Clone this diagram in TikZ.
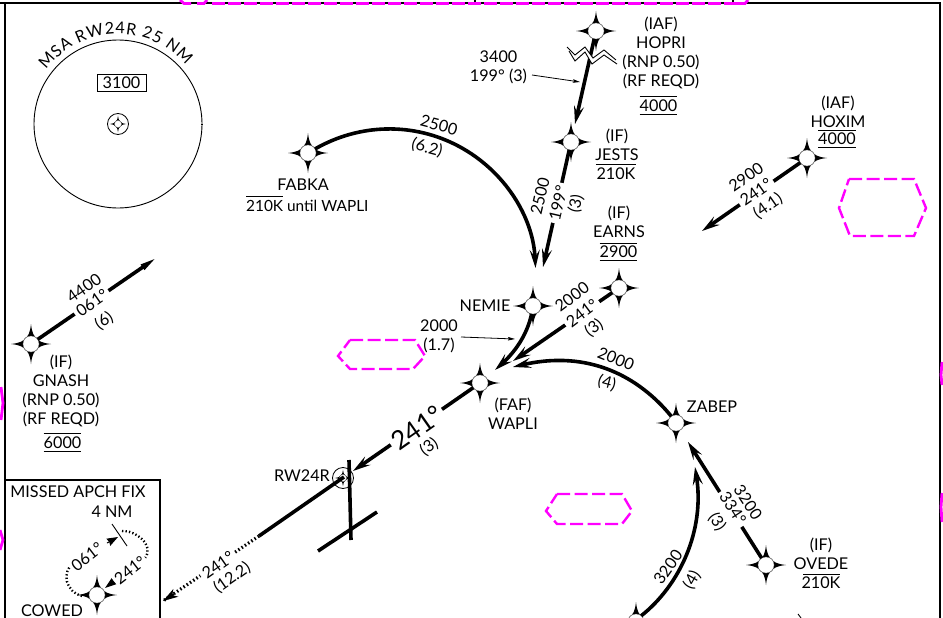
\documentclass[tikz,border=0pt]{standalone}
\usepackage{fontspec}
\setmainfont{Lato}
\usetikzlibrary{arrows.meta,decorations.text}
\definecolor{mag}{RGB}{255,0,255}
\newcommand\lfont{\fontsize{16.2}{19}\selectfont}
\newcommand\starshape{(0,-20) .. controls (1,-11) and (3,-7) .. (6,-6) .. controls (7,-3) and (11,-1) .. (20,0) .. controls (11,1) and (7,3) .. (6,6) .. controls (3,7) and (1,11) .. (0,20) .. controls (-1,11) and (-3,7) .. (-6,6) .. controls (-7,3) and (-11,1) .. (-20,0) .. controls (-11,-1) and (-7,-3) .. (-6,-6) .. controls (-3,-7) and (-1,-11) .. (0,-20) -- cycle}
\newcommand\fixpt[3]{\fill[black,shift={(#2,#3)}] \starshape; \node[fixc] (#1) at (#2,#3) {};}
\newcommand\smallfix[3]{\fill[black,shift={(#2,#3)},scale=0.42] \starshape; \node[fixc,minimum size=7pt] (#1) at (#2,#3) {};}
\tikzset{
  x=1pt,y=-1pt,
  lab/.style={font=\lfont,inner sep=0pt,align=center,text=black},
  gaplab/.style={lab,fill=white,inner xsep=3pt,inner ysep=0pt},
  altlab/.style={lab,minimum width=37pt,minimum height=17pt},
  fixc/.style={circle,draw=black!50,line width=0.3pt,fill=white,minimum size=16pt,inner sep=0pt},
  leg/.style={line width=3.6pt,draw=black},
  legarrow/.style={leg,-{Stealth[length=18pt,width=10pt,inset=7pt]}},
  slimarrow/.style={leg,-{Stealth[length=20pt,width=5.5pt,inset=0pt]}},
  leader/.style={line width=0.8pt,draw=black,-{Stealth[length=7pt,width=3.5pt,inset=1pt]}},
  thinrule/.style={line width=0.9pt,draw=black},
  frameline/.style={line width=2.2pt,draw=black},
  hexdash/.style={draw=mag,line width=2.4pt,dash pattern=on 13pt off 4.5pt},
  edgemag/.style={draw=mag,line width=2.8pt},
  dots/.style={line width=3.2pt,draw=black,dash pattern=on 1.5pt off 2.4pt},
  zig/.style={line width=0.9pt,draw=black},
}
\begin{document}
\begin{tikzpicture}
\clip (0,0) rectangle (943,618);
\fill[white] (0,0) rectangle (943,618);

% frame
\draw[frameline] (5,3) -- (5,618);
\draw[frameline] (0,3) -- (940,3) -- (940,618);
\draw[line width=1.2pt] (5,480) -- (160,480) -- (160,618);
\draw[line width=2pt] (475,0) -- (475,4);
\draw[line width=2pt] (733,0) -- (733,4);

% magenta airspace shapes
\draw[edgemag,dash pattern=on 13pt off 3pt] (212,3.5) -- (733,3.5);
\draw[edgemag] (733,3.5) -- (745,3.5) -- (748,0);
\draw[edgemag] (180,0) -- (184,3.5) -- (191,3.5);
\draw[edgemag] (197,3.5) -- (204,3.5) -- (207,0);
\draw[edgemag] (1,387) -- (3,403) -- (1,420);
\draw[edgemag] (0,530) -- (3,540) -- (0,550);
\draw[edgemag] (942,362) -- (941,375) -- (942,385);
\draw[edgemag] (942,493) -- (941,507) -- (942,522);
\draw[hexdash] (849,179) -- (914,179) -- (926,208) -- (914,236) -- (850,236) -- (839,208) -- cycle;
\draw[hexdash] (350,340) -- (415,340) -- (425,356) -- (413,369) -- (350,369) -- (338,356) -- cycle;
\draw[hexdash] (557,494) -- (622,494) -- (632,511) -- (622,524) -- (557,524) -- (546,511) -- cycle;

% MSA
\node[circle,draw=black,line width=0.9pt,minimum size=168pt,inner sep=0pt] (msa) at (118,124) {};
\draw[line width=0.8pt] (201,124) -- (203,124);
\path[decorate,decoration={text along path,text={|\lfont|MSA RW24R 25 NM},text align={fit to path}}]
  (118,124) ++(143:90pt) arc[start angle=143,end angle=41,radius=90pt];
\node[lab,draw=black,line width=0.8pt,minimum width=49pt,minimum height=17pt] (msaalt) at (121.5,82.5) {3100};
\node[circle,draw=black,line width=0.8pt,minimum size=21pt,inner sep=0pt] (msaring) at (118,124) {};
\smallfix{msafix}{118}{124}

% fixes
\fixpt{hopri}{596}{31}
\fixpt{jests}{571}{142}
\fixpt{earns}{619}{288}
\fixpt{nemie}{533}{306}
\fixpt{wapli}{480}{383}
\fixpt{zabep}{676}{423}
\fixpt{ovede}{766}{565}
\fixpt{hoxim}{807}{158}
\fixpt{gnash}{31}{344}
\fixpt{fabka}{308}{153}
\fixpt{cowed}{97}{595}
\fixpt{lowerfix}{636}{622}

% runway
\node[circle,draw=black,line width=0.8pt,fill=white,minimum size=21pt,inner sep=0pt] (rwring) at (343,478) {};
\smallfix{rw}{343}{478}
\coordinate (rwtop) at (349,460);
\coordinate (rwbot) at (351,540);
\coordinate (barl) at (318,551);
\coordinate (barr) at (377,512);
\draw[leg] (rwtop) -- (rwbot);
\draw[leg] (barl) -- (barr);

% free ends
\coordinate (tipjh) at (575,124);
\coordinate (tipnj) at (543,267);
\coordinate (tipnf) at (535.5,268);
\coordinate (tipwe) at (513,361);
\coordinate (tipwn) at (495,370);
\coordinate (tipwz) at (513,367);
\coordinate (tipzo) at (688,442);
\coordinate (tipzl) at (695,467);
\coordinate (tiphx) at (702,231);
\coordinate (tipgn) at (159,256);
\coordinate (tiprw) at (353,471);
\coordinate (msolid) at (259,536);
\coordinate (mdot) at (163,601);
\coordinate (rwc) at (344,477);

% legs
\draw[legarrow] (hopri) -- (tipjh);
\draw[legarrow] (jests) -- (tipnj);
\draw[legarrow] (fabka.30) .. controls (359.9,123.2) and (414,122.2) .. (459.2,146.5) .. controls (504.4,170.8) and (533.3,216.7) .. (tipnf);
\draw[legarrow] (earns) -- (tipwe);
\draw[legarrow] (nemie.-100) .. controls (527,335) and (515,352) .. (tipwn);
\draw[legarrow] (zabep.125) .. controls (640,378) and (590,349) .. (tipwz);
\draw[legarrow] (ovede) -- (tipzo);
\draw[legarrow] (lowerfix.50) .. controls (680,585) and (705,530) .. (tipzl);
\draw[legarrow] (hoxim) -- (tiphx);
\draw[slimarrow] (gnash) -- (tipgn);
\draw[legarrow] (wapli) -- (tiprw);
\draw[leg] (rwc) -- (msolid);
\draw[dots] (msolid) -- (mdot);
\draw[line width=2pt,-{Stealth[length=15pt,width=9pt,inset=4pt]}] (174,594) -- (mdot);

% lost link zigzag
\fill[white] (567,47) -- (575,55) -- (585,47) -- (593,58) -- (604,50) -- (616,60) -- (617,64) -- (604,55) -- (592,64) -- (585,52) -- (575,61) -- (569,51) -- cycle;
\draw[zig] (567,47) -- (575,55) -- (585,47) -- (593,58) -- (604,50) -- (616,60);
\draw[zig] (569,51) -- (575,61) -- (585,52) -- (592,64) -- (604,55) -- (617,64);

% leaders
\node[lab] (hoprilab) at (498.5,67) {3400\\199° (3)};
\coordinate (ldr1) at (580,82);
\draw[leader] (532,75) -- (ldr1);
\node[lab] (nemielab) at (439,336.5) {2000\\(1.7)};
\coordinate (ldr2) at (515,339);
\draw[leader] (461,337) -- (ldr2);

% holding pattern
\coordinate (hold1) at (82,596);
\coordinate (hold2) at (75,562);
\coordinate (hold3) at (122,531);
\coordinate (hold4) at (145,558);
\coordinate (holdtick1) at (112,524);
\coordinate (holdtick2) at (127,546);
\coordinate (holdarr1) at (107,543);
\coordinate (holdarr2) at (118,537);
\coordinate (holdarr3) at (118,578);
\coordinate (holdarr4) at (105,588);
\draw[line width=2.4pt,dash pattern=on 1.3pt off 2.2pt] (hold1) .. controls (66,592) and (60,572) .. (hold2);
\draw[line width=2.4pt,dash pattern=on 1.3pt off 2.2pt] (hold3) .. controls (135,530) and (155,545) .. (hold4);
\draw[thinrule] (holdtick1) -- (holdtick2);
\draw[line width=1pt,-{Stealth[length=11pt,width=8pt,inset=1pt]}] (holdarr1) -- (holdarr2);
\draw[line width=1pt,-{Stealth[length=12pt,width=8pt,inset=1pt]}] (holdarr3) -- (holdarr4);

% on-leg labels
\node[lab,rotate=77] (l1a) at (540,196) {2500};
\node[gaplab,rotate=77] (l1b) at (558,203) {199°};
\node[lab,rotate=77] (l1c) at (576,204) {(3)};
\node[lab,rotate=-15] (l2a) at (439,125) {2500};
\node[lab,rotate=-15] (l2b) at (427,148) {(6.2)};
\node[lab,rotate=37] (l3a) at (572,297) {2000};
\node[gaplab,rotate=37] (l3b) at (582,313) {241°};
\node[lab,rotate=37] (l3c) at (594,328) {(3)};
\node[lab,rotate=-22] (l4a) at (616,359) {2000};
\node[lab,rotate=-15] (l4b) at (607,383) {(4)};
\node[lab,rotate=-57] (l5a) at (748,502) {3200};
\node[gaplab,rotate=-57] (l5b) at (733,508) {334°};
\node[lab,rotate=-57] (l5c) at (717,522) {(3)};
\node[lab,rotate=55] (l6a) at (668,567) {3200};
\node[lab,rotate=60] (l6b) at (692,580) {(4)};
\node[lab,rotate=35] (l7a) at (746,177) {2900};
\node[gaplab,rotate=35] (l7b) at (756,192) {241°};
\node[lab,rotate=35] (l7c) at (768,206) {(4.1)};
\node[lab,rotate=35] (l8a) at (84,288) {4400};
\node[gaplab,rotate=35] (l8b) at (92,303) {061°};
\node[lab,rotate=35] (l8c) at (104,321) {(6)};
\node[gaplab,rotate=35,font=\fontsize{26}{28}\selectfont] (l9a) at (417,428) {241°};
\node[lab,rotate=35] (l9b) at (429,447) {(3)};
\node[gaplab,rotate=35] (l10a) at (218,565) {241°};
\node[lab,rotate=35] (l10b) at (232,578) {(12.2)};
\node[lab,rotate=38,fill=white,inner xsep=2pt] (l11a) at (87,557) {061°};
\node[lab,rotate=38,fill=white,inner xsep=2pt] (l11b) at (130,570) {241°};

% fix labels
\node[lab] (t1) at (661,52.5) {(IAF)\\HOPRI\\(RNP 0.50)\\(RF REQD)};
\node[altlab] (t1a) at (658.5,105.5) {4000};
\draw[thinrule] (t1a.north west) -- (t1a.north east);
\draw[thinrule] (t1a.south west) -- (t1a.south east);

\node[lab] (t2) at (617,144.5) {(IF)\\JESTS};
\node[altlab,minimum width=40pt] (t2a) at (616,173.5) {210K};
\draw[thinrule] (t2a.north west) -- (t2a.north east);

\node[lab] (t3) at (619,222) {(IF)\\EARNS};
\node[altlab] (t3a) at (618.5,252) {2900};
\draw[thinrule] (t3a.north west) -- (t3a.north east);
\draw[thinrule] (t3a.south west) -- (t3a.south east);

\node[lab] (t4) at (838,112) {(IAF)\\HOXIM};
\node[altlab] (t4a) at (837,139) {4000};
\draw[thinrule] (t4a.north west) -- (t4a.north east);
\draw[thinrule] (t4a.south west) -- (t4a.south east);

\node[lab] (t5) at (61,391) {(IF)\\GNASH\\(RNP 0.50)\\(RF REQD)};
\node[altlab] (t5a) at (62.5,442.5) {6000};
\draw[thinrule] (t5a.north west) -- (t5a.north east);
\draw[thinrule] (t5a.south west) -- (t5a.south east);

\node[lab] (t6) at (303,185) {FABKA};
\node[lab,anchor=west,font=\fontsize{15.4}{19}\selectfont] (t6a) at (246,206) {210K until WAPLI};
\draw[thinrule] (246,196) -- (283,196);

\node[lab] (t7) at (485,306) {NEMIE};
\node[lab] (t8) at (513,413.5) {(FAF)\\WAPLI};
\node[lab] (t9) at (712,407) {ZABEP};
\node[lab] (t10) at (821,554) {(IF)\\OVEDE};
\node[lab] (t10a) at (821,583) {210K};
\draw[thinrule] (803,574) -- (840,574);
\node[lab] (t11) at (302,476) {RW24R};
\node[lab] (t12) at (78,492) {MISSED APCH FIX};
\node[lab] (t13) at (112,512) {4 NM};
\node[lab] (t14) at (52,611) {COWED};
\draw[thinrule] (798,614) -- (801,618);
\end{tikzpicture}
\end{document}
